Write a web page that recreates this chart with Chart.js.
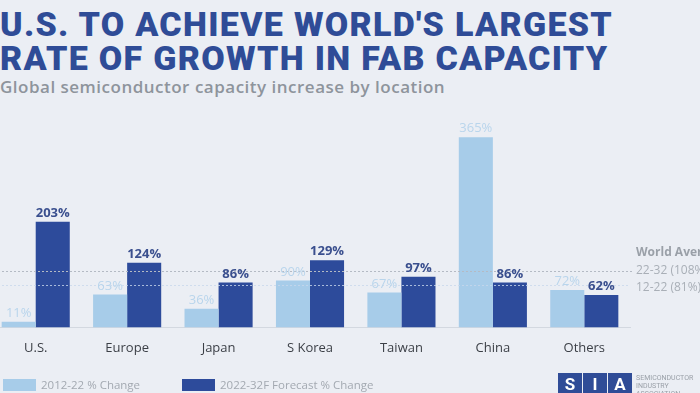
<!DOCTYPE html>
<html>
<head>
<meta charset="utf-8">
<script src="https://cdn.jsdelivr.net/npm/chart.js@4.4.1/dist/chart.umd.min.js"></script>
<style>
  html, body { margin: 0; padding: 0; }
  body {
    width: 700px; height: 393px; overflow: hidden; position: relative;
    background: #ebeef4; font-family: "Open Sans", sans-serif;
  }
  #title {
    position: absolute; left: 0; top: 7px; margin: 0;
    font-family: "Roboto", sans-serif; font-weight: 900; font-size: 34px;
    line-height: 34px; color: #2f4c97; letter-spacing: 1.3px; white-space: nowrap;
  }
  #subtitle {
    position: absolute; left: 0; top: 75px; font-size: 17px; font-weight: 600;
    color: #8e949c; letter-spacing: 0.5px; white-space: nowrap;
  }
  #chartBox { position: absolute; left: -10px; top: 0; width: 710px; height: 393px; }
  .legend { position: absolute; top: 377px; font-size: 11.5px; color: #a3a9b1; white-space: nowrap; }
  .legend span { display: inline-block; width: 33px; height: 12px; vertical-align: -2px; margin-right: 5px; }
  #logo { position: absolute; left: 558px; top: 373px; display: flex; }
  #logo div {
    width: 24px; height: 22px; background: #2f4c97; color: #fff; margin-right: 1px;
    font: bold 17px "Roboto", sans-serif; text-align: center; line-height: 22px;
  }
  #logoText {
    position: absolute; left: 636px; top: 374px; font: 7px "Roboto", sans-serif;
    color: #9aa0a8; line-height: 8px; white-space: nowrap;
  }
</style>
</head>
<body>
<div id="title">U.S. TO ACHIEVE WORLD'S LARGEST<br>RATE OF GROWTH IN FAB CAPACITY</div>
<div id="subtitle">Global semiconductor capacity increase by location</div>
<div id="chartBox"><canvas id="fabChart"></canvas></div>
<div class="legend" style="left:3px"><span style="background:#a7cce9"></span>2012-22 % Change</div>
<div class="legend" style="left:182px"><span style="background:#2d4b9b"></span>2022-32F Forecast % Change</div>
<div id="logo"><div>S</div><div>I</div><div>A</div></div>
<div id="logoText">SEMICONDUCTOR<br>INDUSTRY<br>ASSOCIATION</div>

<script>
const locations = ['U.S.', 'Europe', 'Japan', 'S Korea', 'Taiwan', 'China', 'Others'];
const change2012_22 = [11, 63, 36, 90, 67, 365, 72];
const forecast2022_32 = [203, 124, 86, 129, 97, 86, 62];
const worldAvg = [108, 81]; // 22-32, 12-22
const worldAvgLabels = ['22-32 (108%)', '12-22 (81%)'];

const lightBlue = '#a7cce9';
const darkBlue = '#2d4b9b';

// value labels above the bars + world average lines
const extras = {
  id: 'extras',
  afterDatasetsDraw(chart) {
    const c = chart.ctx;
    const y = chart.scales.y;
    const area = chart.chartArea;

    // dotted world average lines
    c.save();
    c.setLineDash([2, 2]);
    c.lineWidth = 1;
    c.strokeStyle = '#b4bac4';
    let y1 = Math.round(y.getPixelForValue(worldAvg[0])) + 0.5;
    c.beginPath(); c.moveTo(area.left, y1); c.lineTo(area.right + 3, y1); c.stroke();
    c.strokeStyle = 'rgba(200,215,235,0.8)';
    let y2 = Math.round(y.getPixelForValue(worldAvg[1])) + 0.5;
    c.beginPath(); c.moveTo(area.left, y2); c.lineTo(area.right, y2); c.stroke();
    c.restore();

    // bar labels
    c.save();
    c.textAlign = 'center';
    c.textBaseline = 'bottom';
    chart.data.datasets.forEach((ds, i) => {
      const meta = chart.getDatasetMeta(i);
      meta.data.forEach((bar, j) => {
        if (i === 0) {
          c.font = '13px "Open Sans"';
          c.fillStyle = '#b9d5ec';
        } else {
          c.font = 'bold 13px "Open Sans"';
          c.fillStyle = '#3a4f8e';
        }
        c.fillText(ds.data[j] + '%', bar.x, bar.y - 2);
      });
    });

    // world average text
    c.textAlign = 'left';
    c.textBaseline = 'middle';
    const tx = area.right + 6;
    c.font = 'bold 12px "Open Sans"';
    c.fillStyle = '#9aa0a8';
    c.fillText('World Average', tx, y1 - 19);
    c.font = '12px "Open Sans"';
    c.fillStyle = '#a9afb7';
    c.fillText(worldAvgLabels[0], tx, y1 - 1);
    c.fillText(worldAvgLabels[1], tx, y2 + 2);
    c.restore();
  }
};

new Chart(document.getElementById('fabChart'), {
  type: 'bar',
  data: {
    labels: locations,
    datasets: [
      { label: '2012-22 % Change', data: change2012_22, backgroundColor: lightBlue },
      { label: '2022-32F Forecast % Change', data: forecast2022_32, backgroundColor: darkBlue }
    ]
  },
  options: {
    responsive: true,
    maintainAspectRatio: false,
    animation: false,
    layout: { padding: { top: 119, right: 70, bottom: 24, left: 0 } },
    datasets: {
      bar: { barPercentage: 1, categoryPercentage: 0.745 }
    },
    plugins: {
      legend: { display: false },
      tooltip: { enabled: false }
    },
    scales: {
      x: {
        grid: { display: false, drawTicks: false },
        border: { display: true, color: '#d3d8e0', width: 1 },
        ticks: { padding: 13, color: '#3b3f46', font: { size: 13, family: 'Open Sans' } }
      },
      y: {
        display: false,
        min: 0,
        max: 400
      }
    }
  },
  plugins: [extras]
});
</script>
</body>
</html>
